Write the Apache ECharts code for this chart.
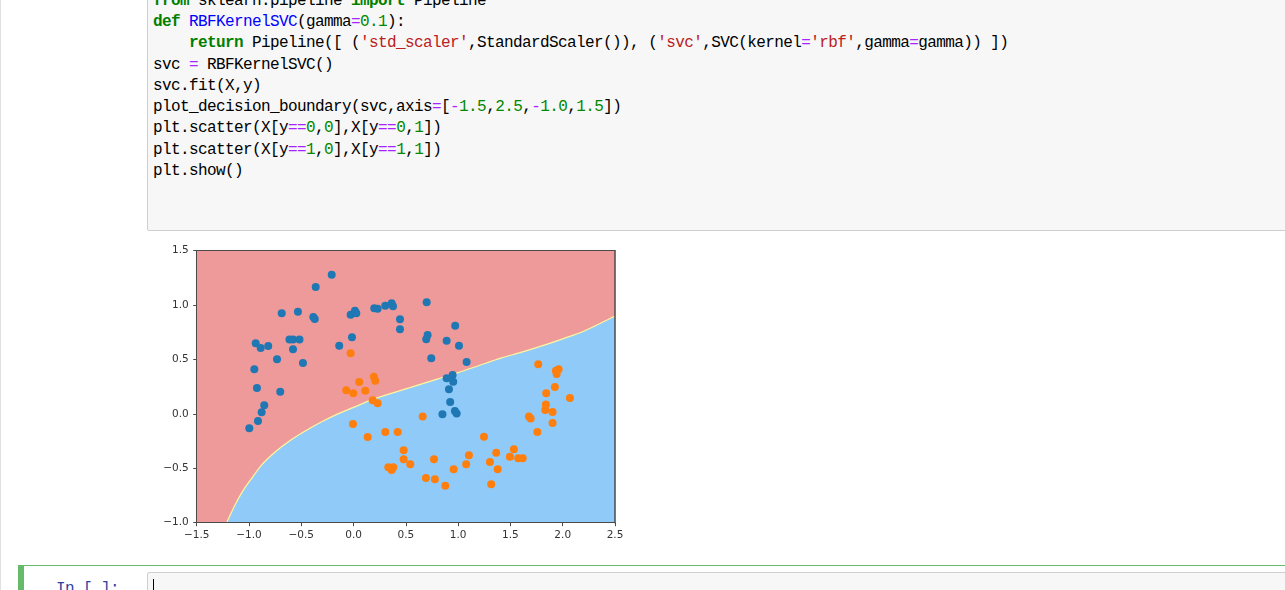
<!DOCTYPE html>
<html>
<head>
<meta charset="utf-8">
<script src="https://cdn.jsdelivr.net/npm/echarts@6/dist/echarts.min.js"></script>
<style>
  html, body { margin:0; padding:0; width:1285px; height:590px; overflow:hidden; background:#fff; }
  #page { position:relative; width:1285px; height:590px; overflow:hidden; }
  .leftline { position:absolute; left:0; top:0; width:1px; height:590px; background:#e0e0e0; }
  .codebox { position:absolute; left:147px; top:-20px; width:1160px; height:249px; background:#f7f7f7; border:1px solid #cfcfcf; border-radius:2px; }
  pre.code { position:absolute; left:153px; top:-9.2px; margin:0; font-family:"Liberation Mono", monospace; font-size:16px; letter-spacing:-0.6px; line-height:21.25px; color:#000; }
  .k { color:#008000; font-weight:bold; }
  .nf { color:#0000ff; }
  .o { color:#aa22ff; }
  .m { color:#008800; }
  .s { color:#ba2121; }
  #chart { position:absolute; left:150px; top:235px; width:490px; height:315px; }
  .selcell { position:absolute; left:18px; top:565px; width:1300px; height:40px; border-top:1px solid #66bb6a; }
  .selbar { position:absolute; left:18px; top:565px; width:6px; height:30px; background:#66bb6a; }
  .prompt { position:absolute; left:56px; top:580px; font-family:"Liberation Mono", monospace; font-size:16px; letter-spacing:-0.6px; color:#303f9f; }
  .codebox2 { position:absolute; left:147px; top:572px; width:1160px; height:40px; background:#f7f7f7; border:1px solid #cfcfcf; border-radius:2px; }
  .cursor { position:absolute; left:153px; top:579px; width:1px; height:14px; background:#000; }
</style>
</head>
<body>
<div id="page">
  <div class="leftline"></div>
  <div class="codebox"></div>
<pre class="code"><span class="k">from</span> sklearn.pipeline <span class="k">import</span> Pipeline
<span class="k">def</span> <span class="nf">RBFKernelSVC</span>(gamma<span class="o">=</span><span class="m">0.1</span>):
    <span class="k">return</span> Pipeline([ (<span class="s">'std_scaler'</span>,StandardScaler()), (<span class="s">'svc'</span>,SVC(kernel<span class="o">=</span><span class="s">'rbf'</span>,gamma<span class="o">=</span>gamma)) ])
svc <span class="o">=</span> RBFKernelSVC()
svc.fit(X,y)
plot_decision_boundary(svc,axis<span class="o">=</span>[<span class="o">-</span><span class="m">1.5</span>,<span class="m">2.5</span>,<span class="o">-</span><span class="m">1.0</span>,<span class="m">1.5</span>])
plt.scatter(X[y<span class="o">==</span><span class="m">0</span>,<span class="m">0</span>],X[y<span class="o">==</span><span class="m">0</span>,<span class="m">1</span>])
plt.scatter(X[y<span class="o">==</span><span class="m">1</span>,<span class="m">0</span>],X[y<span class="o">==</span><span class="m">1</span>,<span class="m">1</span>])
plt.show()</pre>
  <div id="chart"></div>
  <div class="selcell"></div>
  <div class="selbar"></div>
  <div class="prompt">In [ ]:</div>
  <div class="codebox2"></div>
  <div class="cursor"></div>
</div>
<script>
// ---- data ----
const xTicks = [-1.5, -1.0, -0.5, 0.0, 0.5, 1.0, 1.5, 2.0, 2.5];
const yTicks = [-1.0, -0.5, 0.0, 0.5, 1.0, 1.5];

const blueX = [-0.209,-0.362,-0.687,-0.532,-0.385,-0.371,-0.028,0.013,0.026,0.198,0.230,0.303,0.364,0.377,0.444,0.444,-0.936,-0.888,-0.816,-0.613,-0.579,-0.517,-0.579,-0.732,-0.484,-0.949,-0.924,-0.701,-0.137,-0.015,-0.854,-0.879,-0.914,-0.997,0.699,0.972,0.708,0.695,0.890,1.008,0.743,1.081,0.890,0.947,0.953,0.912,0.924,0.850,0.986,0.969];
const blueY = [1.279,1.166,0.925,0.939,0.891,0.872,0.912,0.949,0.925,0.971,0.967,0.994,1.017,0.989,0.870,0.778,0.649,0.606,0.624,0.684,0.684,0.684,0.594,0.502,0.468,0.410,0.238,0.204,0.627,0.704,0.079,0.015,-0.065,-0.132,1.026,0.811,0.725,0.686,0.673,0.627,0.511,0.477,0.327,0.358,0.296,0.226,0.109,-0.004,0.004,0.027];

const orangeX = [-0.028,0.054,0.195,0.207,-0.070,-0.003,0.112,0.183,0.230,-0.006,0.135,0.303,0.422,0.479,0.479,0.332,0.380,0.364,0.542,0.661,0.769,0.692,0.778,0.877,0.957,1.077,1.103,1.247,1.304,1.364,1.378,1.316,1.495,1.533,1.575,1.617,1.677,1.693,1.758,1.833,1.839,1.903,1.903,2.069,1.842,1.925,1.766,1.935,1.961,1.942];
const orangeY = [0.557,0.293,0.342,0.305,0.217,0.189,0.213,0.125,0.097,-0.093,-0.212,-0.166,-0.166,-0.335,-0.417,-0.491,-0.491,-0.516,-0.463,-0.024,-0.417,-0.589,-0.601,-0.660,-0.509,-0.463,-0.380,-0.210,-0.442,-0.357,-0.509,-0.647,-0.393,-0.325,-0.408,-0.408,-0.024,-0.042,-0.166,0.036,0.086,0.017,-0.084,0.146,0.189,0.247,0.456,0.397,0.410,0.367];

// decision boundary (class 1 region lies below this curve)
const boundaryX = [-1.213,-1.18,-1.13,-1.06,-0.98,-0.88,-0.75,-0.60,-0.45,-0.30,-0.15,0.0,0.2,0.4,0.6,0.8,1.0,1.2,1.4,1.6,1.8,2.0,2.2,2.5];
const boundaryY = [-1.0,-0.93,-0.83,-0.71,-0.60,-0.47,-0.35,-0.24,-0.15,-0.07,0.0,0.06,0.14,0.20,0.26,0.32,0.38,0.445,0.51,0.565,0.625,0.69,0.76,0.90];

// ---- chart ----
const zip = (a, b) => a.map((v, i) => [v, b[i]]);
const fmt = v => (v < 0 ? '\u2212' : '') + Math.abs(v).toFixed(1);
const spine = '#4a4a4a';
const labelStyle = { color:'#333', fontFamily:'DejaVu Sans', fontSize:10.5 };

const chart = echarts.init(document.getElementById('chart'), null, { renderer:'canvas' });
chart.setOption({
  animation:false,
  grid:{ left:46.7, top:15.7, width:418.3, height:272, show:true, backgroundColor:'#ef9a9a', borderWidth:0 },
  xAxis:[
    { type:'value', min:xTicks[0], max:xTicks[xTicks.length-1], interval:0.5, z:10,
      axisLine:{ show:true, onZero:false, lineStyle:{ color:spine, width:1 } },
      axisTick:{ show:true, inside:false, length:3.5, lineStyle:{ color:spine } },
      axisLabel:{ show:true, margin:7, formatter:fmt, ...labelStyle },
      splitLine:{ show:false } },
    { type:'value', position:'top', min:xTicks[0], max:xTicks[xTicks.length-1], z:10,
      axisLine:{ show:true, onZero:false, lineStyle:{ color:spine, width:1 } },
      axisTick:{ show:false }, axisLabel:{ show:false }, splitLine:{ show:false } }
  ],
  yAxis:[
    { type:'value', min:yTicks[0], max:yTicks[yTicks.length-1], interval:0.5, z:10,
      axisLine:{ show:true, onZero:false, lineStyle:{ color:spine, width:1 } },
      axisTick:{ show:true, inside:false, length:3.5, lineStyle:{ color:spine } },
      axisLabel:{ show:true, margin:8, formatter:fmt, ...labelStyle },
      splitLine:{ show:false } },
    { type:'value', position:'right', min:yTicks[0], max:yTicks[yTicks.length-1], z:10,
      axisLine:{ show:true, onZero:false, lineStyle:{ color:spine, width:1.5 } },
      axisTick:{ show:false }, axisLabel:{ show:false }, splitLine:{ show:false } }
  ],
  series:[
    { type:'line', data:zip(boundaryX, boundaryY), showSymbol:false, symbol:'none', z:1, smooth:0.3,
      lineStyle:{ color:'#fff59d', width:1.2 },
      areaStyle:{ color:'#90caf9', opacity:1, origin:'start' } },
    { type:'scatter', data:zip(blueX, blueY), symbol:'circle', symbolSize:8, z:3,
      itemStyle:{ color:'#1f77b4', opacity:1 } },
    { type:'scatter', data:zip(orangeX, orangeY), symbol:'circle', symbolSize:8, z:4,
      itemStyle:{ color:'#ff7f0e', opacity:1 } }
  ]
});
</script>
</body>
</html>
